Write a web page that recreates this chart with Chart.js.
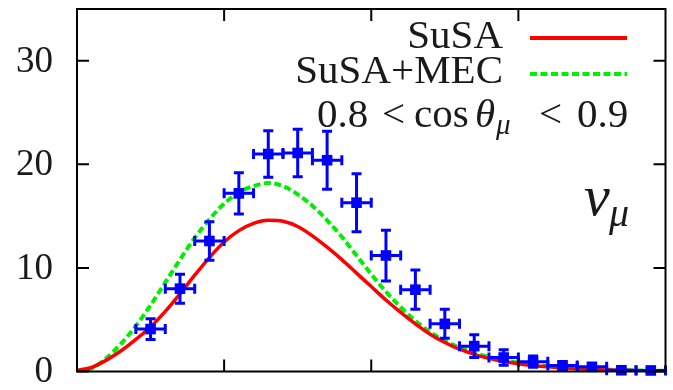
<!DOCTYPE html>
<html>
<head>
<meta charset="utf-8">
<script src="https://cdn.jsdelivr.net/npm/chart.js@4.4.0/dist/chart.umd.min.js"></script>
<style>
  html, body { margin: 0; padding: 0; background: #fff; }
</style>
</head>
<body>
<canvas id="chart" width="673" height="390"></canvas>
<script>
// data points (muon kinetic energy bins, GeV)
var dataX = [0.25, 0.35, 0.45, 0.55, 0.65, 0.75, 0.85, 0.95, 1.05, 1.15, 1.25, 1.35, 1.45, 1.55, 1.65, 1.75, 1.85, 1.95];
var dataY = [4.1, 8.0, 12.6, 17.2, 21.0, 21.1, 20.4, 16.3, 11.2, 7.9, 4.6, 2.45, 1.35, 0.95, 0.57, 0.45, 0.12, 0.1];
var yErr  = [1.0, 1.4, 1.85, 2.0, 2.25, 2.3, 2.8, 2.8, 2.45, 1.9, 1.4, 1.1, 0.75, 0.55, 0.4, 0.3, 0.2, 0.2];
var xErr  = [0.05, 0.05, 0.05, 0.05, 0.05, 0.05, 0.05, 0.05, 0.05, 0.05, 0.05, 0.05, 0.05, 0.05, 0.05, 0.05, 0.05, 0.05];

// model curves
var curveX = [0.00, 0.05, 0.10, 0.15, 0.20, 0.25, 0.30, 0.35, 0.40, 0.45,
              0.50, 0.55, 0.60, 0.65, 0.70, 0.75, 0.80, 0.85, 0.90, 0.95,
              1.00, 1.05, 1.10, 1.15, 1.20, 1.25, 1.30, 1.35, 1.40, 1.45,
              1.50, 1.55, 1.60, 1.65, 1.70, 1.75, 1.80, 1.85, 1.90, 1.95, 2.00];
var susa    = [0.1, 0.4, 1.1, 2.0, 3.1, 4.3, 5.8, 7.5, 9.3, 11.0,
               12.5, 13.6, 14.3, 14.6, 14.5, 14.0, 13.1, 12.0, 10.8, 9.5,
               8.2, 6.9, 5.7, 4.6, 3.6, 2.8, 2.15, 1.65, 1.27, 0.97,
               0.75, 0.58, 0.45, 0.35, 0.27, 0.2, 0.15, 0.11, 0.08, 0.06, 0.05];
var susaMec = [0.05, 0.3, 1.3, 2.7, 4.4, 6.4, 8.6, 10.8, 12.9, 14.7,
               16.2, 17.3, 17.9, 18.2, 17.9, 17.1, 16.0, 14.6, 13.0, 11.2,
               9.4, 7.7, 6.2, 4.9, 3.8, 2.95, 2.3, 1.8, 1.4, 1.1,
               0.85, 0.65, 0.5, 0.4, 0.3, 0.23, 0.18, 0.13, 0.1, 0.08, 0.06];

var yTicks = [0, 10, 20, 30];
var xTicks = [0.5, 1.0, 1.5];
var yTickLabels = ['0', '10', '20', '30'];

function pts(xs, ys) {
    var out = [];
    for (var i = 0; i < xs.length; i++) {
        out.push({x: xs[i], y: ys[i]});
    }
    return out;
}

var serif = '"Liberation Serif", "DejaVu Serif", serif';
var ink = '#1a1a1a';

const decor = {
    id: 'decor',
    afterDatasetsDraw(chart) {
        const ctx = chart.ctx;
        const xs = chart.scales.x, ys = chart.scales.y;
        ctx.save();
        ctx.strokeStyle = '#0000ff';
        ctx.lineWidth = 3;
        for (var i = 0; i < dataX.length; i++) {
            var px = xs.getPixelForValue(dataX[i]);
            var py = ys.getPixelForValue(dataY[i]);
            var t = ys.getPixelForValue(dataY[i] + yErr[i]);
            var b = ys.getPixelForValue(dataY[i] - yErr[i]);
            var l = xs.getPixelForValue(dataX[i] - xErr[i]);
            var r = xs.getPixelForValue(dataX[i] + xErr[i]);
            ctx.beginPath();
            ctx.moveTo(px, t); ctx.lineTo(px, b);
            ctx.moveTo(px - 5, t); ctx.lineTo(px + 5, t);
            ctx.moveTo(px - 5, b); ctx.lineTo(px + 5, b);
            ctx.moveTo(l, py); ctx.lineTo(r, py);
            ctx.moveTo(l, py - 5); ctx.lineTo(l, py + 5);
            ctx.moveTo(r, py - 5); ctx.lineTo(r, py + 5);
            ctx.stroke();
        }
        ctx.restore();
    },
    afterDraw(chart) {
        const ctx = chart.ctx;
        const a = chart.chartArea;
        const xs = chart.scales.x, ys = chart.scales.y;
        ctx.save();

        // frame + inward ticks
        ctx.strokeStyle = '#000';
        ctx.lineWidth = 2;
        ctx.strokeRect(a.left, a.top, a.right - a.left, a.bottom - a.top);
        ctx.beginPath();
        yTicks.forEach(function (v) {
            var py = ys.getPixelForValue(v);
            ctx.moveTo(a.left, py); ctx.lineTo(a.left + 12, py);
            ctx.moveTo(a.right, py); ctx.lineTo(a.right - 12, py);
        });
        xTicks.forEach(function (v) {
            var px = xs.getPixelForValue(v);
            ctx.moveTo(px, a.bottom); ctx.lineTo(px, a.bottom - 12);
            ctx.moveTo(px, a.top); ctx.lineTo(px, a.top + 12);
        });
        ctx.stroke();

        // y tick labels
        ctx.fillStyle = ink;
        ctx.font = '37px ' + serif;
        ctx.textAlign = 'right';
        ctx.textBaseline = 'middle';
        yTicks.forEach(function (v, i) {
            ctx.fillText(yTickLabels[i], a.left - 24, ys.getPixelForValue(v) + 1);
        });

        // legend
        ctx.textBaseline = 'alphabetic';
        ctx.font = '41px ' + serif;
        ctx.fillText('SuSA', 503, 48);
        ctx.fillText('SuSA+MEC', 503, 83);
        ctx.lineWidth = 4;
        ctx.strokeStyle = '#ff0000';
        ctx.beginPath(); ctx.moveTo(530, 38); ctx.lineTo(627, 38); ctx.stroke();
        ctx.strokeStyle = '#00ee00';
        ctx.setLineDash([7, 3.5]);
        ctx.beginPath(); ctx.moveTo(530, 74); ctx.lineTo(627, 74); ctx.stroke();
        ctx.setLineDash([]);

        // angular bin label
        ctx.textAlign = 'left';
        ctx.font = '41px ' + serif;
        ctx.fillText('0.8', 317, 127);
        ctx.fillText('<', 382, 127);
        ctx.fillText('cos', 414, 127);
        ctx.fillText('<', 539, 127);
        ctx.fillText('0.9', 577, 127);
        ctx.font = 'italic 41px ' + serif;
        ctx.fillText('θ', 475, 127);
        ctx.font = 'italic 29px ' + serif;
        ctx.fillText('μ', 496, 134);

        // neutrino flavour
        ctx.font = 'italic 58px ' + serif;
        ctx.fillText('ν', 584, 215);
        ctx.font = 'italic 40px ' + serif;
        ctx.fillText('μ', 609, 226);

        ctx.restore();
    }
};

const ctx = document.getElementById('chart').getContext('2d');
const myChart = new Chart(ctx, {
    type: 'scatter',
    data: {
        datasets: [{
            label: 'data',
            data: pts(dataX, dataY),
            pointStyle: 'rect',
            pointRadius: 7.5,
            pointHoverRadius: 7.5,
            backgroundColor: '#0000ff',
            borderColor: '#0000ff',
            borderWidth: 0,
            clip: false
        }, {
            label: 'SuSA',
            data: pts(curveX, susa),
            showLine: true,
            pointRadius: 0,
            borderColor: '#ff0000',
            borderWidth: 3.5,
            cubicInterpolationMode: 'monotone'
        }, {
            label: 'SuSA+MEC',
            data: pts(curveX, susaMec),
            showLine: true,
            pointRadius: 0,
            borderColor: '#00ee00',
            borderWidth: 4,
            borderDash: [7, 3.5],
            cubicInterpolationMode: 'monotone'
        }]
    },
    options: {
        responsive: false,
        animation: false,
        layout: {
            padding: {left: 77, top: 9, right: 3, bottom: 18.5}
        },
        plugins: {
            legend: {display: false},
            tooltip: {enabled: false}
        },
        scales: {
            x: {type: 'linear', min: 0, max: 2, display: false},
            y: {type: 'linear', min: 0, max: 35, display: false}
        }
    },
    plugins: [decor]
});
</script>
</body>
</html>
